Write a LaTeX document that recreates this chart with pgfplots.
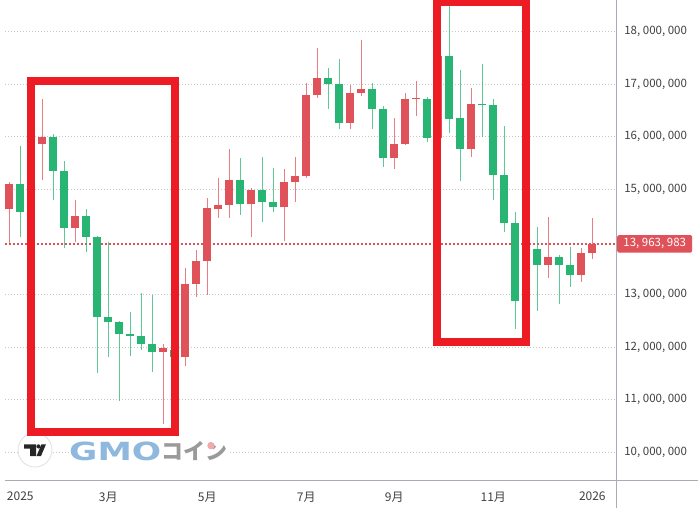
\documentclass[border=0pt]{standalone}
\usepackage{fontspec}
\setmainfont{Noto Sans CJK JP}
\newfontfamily\logofont{DejaVu Sans}
\usepackage{pgfplots}
\usepackage{pgfplotstable}
\pgfplotsset{compat=1.18}
\definecolor{upc}{HTML}{E0525A}
\definecolor{downc}{HTML}{28B573}
\definecolor{framec}{HTML}{ED1C24}
\definecolor{linec}{HTML}{ABABB8}
\definecolor{gridc}{HTML}{C8C8C8}
\definecolor{gmoblue}{HTML}{8FB8DE}
\definecolor{logogray}{HTML}{9A9A9A}
\definecolor{dotpink}{HTML}{F0A9AD}

% weekly candles, prices in million JPY: index, low, high, body bottom, body top
\pgfplotstableread{
i low high bot top
0 13.97 15.14 14.63 15.10
2 14.53 15.90 14.56 15.86
3 15.18 16.71 15.86 15.99
6 14.00 14.80 14.27 14.50
14 10.54 12.06 11.91 11.99
16 11.65 13.50 11.82 13.20
17 12.96 13.85 13.20 13.64
18 12.99 14.83 13.63 14.64
19 14.46 15.21 14.63 14.71
20 14.46 15.76 14.71 15.18
22 14.10 15.02 14.73 14.98
25 14.02 15.38 14.67 15.13
26 14.75 15.61 15.13 15.25
27 15.22 17.02 15.25 16.79
28 16.73 17.69 16.79 17.11
31 16.14 16.98 16.27 16.83
32 16.78 17.83 16.83 16.91
35 15.39 16.35 15.60 15.86
36 15.84 16.83 15.86 16.71
37 16.39 17.05 16.72 16.74
39 15.94 17.55 15.98 17.54
42 15.61 16.92 15.77 16.63
47 12.86 13.94 12.88 13.86
49 13.31 14.48 13.57 13.71
52 13.24 13.88 13.37 13.78
53 13.67 14.45 13.78 13.96
}\upcandles
\pgfplotstableread{
i low high bot top
1 14.09 15.82 14.56 15.10
4 14.80 16.05 15.35 15.99
5 13.89 15.54 14.27 15.35
7 13.81 14.62 14.09 14.50
8 11.50 14.11 12.58 14.09
9 11.82 13.99 12.47 12.58
10 10.98 12.50 12.24 12.47
11 11.83 12.67 12.22 12.24
12 11.94 13.02 12.06 12.22
13 11.53 12.99 11.90 12.06
15 11.79 12.04 11.82 11.94
21 14.52 15.59 14.73 15.18
23 14.38 15.61 14.76 14.98
24 14.57 15.40 14.67 14.76
29 16.53 17.30 17.00 17.11
30 16.15 17.47 16.27 17.00
33 16.15 17.03 16.53 16.91
34 15.43 16.58 15.60 16.53
38 15.89 16.75 15.98 16.72
40 16.07 18.56 16.34 17.54
41 15.16 17.26 15.77 16.36
43 16.00 17.38 16.60 16.63
44 14.80 16.72 15.28 16.60
45 14.19 16.20 14.36 15.28
46 12.34 14.56 12.88 14.36
48 12.69 14.28 13.57 13.86
50 12.82 13.76 13.57 13.71
51 13.15 13.91 13.37 13.57
}\downcandles

\pgfplotsset{
  wick/.style={draw=none, mark=none, error bars/.cd, y dir=both, y explicit, error mark=none,
    error bar style={draw=#1, line width=1pt, opacity=0.75}},
  body/.style={draw=none, mark=none, error bars/.cd, y dir=both, y explicit, error mark=none,
    error bar style={draw=#1, line width=8pt}},
}

\begin{document}
\begin{tikzpicture}
\useasboundingbox (-5pt,-31.7pt) rectangle (695pt,480.3pt);
% reference pixel frame: origin top left, 1pt per pixel
\begin{scope}[shift={(-5pt,480.3pt)}, x=1pt, y=-1pt]
\draw[linec, line width=1.2pt] (5,480.3) -- (698,480.3);
\draw[linec, line width=1.2pt] (616.3,0) -- (616.3,508);
\end{scope}
\begin{axis}[
  scale only axis,
  width=611.3pt, height=480.3pt,
  at={(0pt,0pt)}, anchor=south west,
  xmin=-0.391, xmax=55.18,
  ymin=9.468, ymax=18.599,
  axis line style={draw=none},
  major tick length=0pt,
  tick style={draw=none},
  xtick={1,9,18,27,35,44,53},
  xticklabels={2025,3月,5月,7月,9月,11月,2026},
  xticklabel style={font=\fontsize{12}{13}\selectfont, text=black!75, anchor=north, yshift=-8pt},
  ytick={10,11,12,13,15,16,17,18},
  yticklabels={{10, 000, 000},{11, 000, 000},{12, 000, 000},{13, 000, 000},{15, 000, 000},{16, 000, 000},{17, 000, 000},{18, 000, 000}},
  yticklabel pos=right,
  yticklabel style={font=\fontsize{11.5}{12}\selectfont, text=black!75, anchor=west, xshift=4.5pt},
  ymajorgrids,
  major grid style={draw=gridc, line width=0.8pt, dash pattern=on 1pt off 2pt},
]
\addplot[color=upc, line width=1.4pt, dash pattern=on 1.5pt off 2.5pt] coordinates {(-0.391,13.964) (55.18,13.964)};
\addplot[wick=upc] table[x=i, y expr=(\thisrow{low}+\thisrow{high})/2, y error expr=(\thisrow{high}-\thisrow{low})/2] {\upcandles};
\addplot[wick=downc] table[x=i, y expr=(\thisrow{low}+\thisrow{high})/2, y error expr=(\thisrow{high}-\thisrow{low})/2] {\downcandles};
\addplot[body=upc] table[x=i, y expr=(\thisrow{bot}+\thisrow{top})/2, y error expr=(\thisrow{top}-\thisrow{bot})/2] {\upcandles};
\addplot[body=downc] table[x=i, y expr=(\thisrow{bot}+\thisrow{top})/2, y error expr=(\thisrow{top}-\thisrow{bot})/2] {\downcandles};
\end{axis}
\begin{scope}[shift={(-5pt,480.3pt)}, x=1pt, y=-1pt]
% logo
\fill[white] (69,441) rectangle (228,461);
\draw[black!12, fill=white, line width=0.8pt] (35,450) circle (17);
\fill[black!85] (24,444.3) rectangle (36,448.5) (30,448.5) rectangle (36,456);
\fill[black!85] (38.5,446.4) circle (2.1);
\fill[black!85] (46,444.3) -- (41,456) -- (36.5,456) -- (41.5,444.3) -- cycle;
\node[anchor=west, inner sep=0pt, text=gmoblue] at (69,451) {\logofont\bfseries\scalebox{1.38}[1]{\fontsize{25}{25}\selectfont GMO}};
\node[anchor=west, inner sep=0pt, text=logogray] at (161,451) {\bfseries\fontsize{22}{22}\selectfont コイン};
\fill[dotpink] (211,445.7) circle (3.7);
% red frames
\draw[framec, line width=8pt] (31,81) rectangle (175,432);
\draw[framec, line width=8pt] (437,2) rectangle (526,341.7);
% last price label
\node[fill=upc, rounded corners=1.5pt, text=white, inner sep=0pt, minimum width=75pt, minimum height=17.5pt, anchor=west, font=\fontsize{11.5}{12}\selectfont] at (617,243.8) {13, 963, 983};
\end{scope}
\end{tikzpicture}
\end{document}
